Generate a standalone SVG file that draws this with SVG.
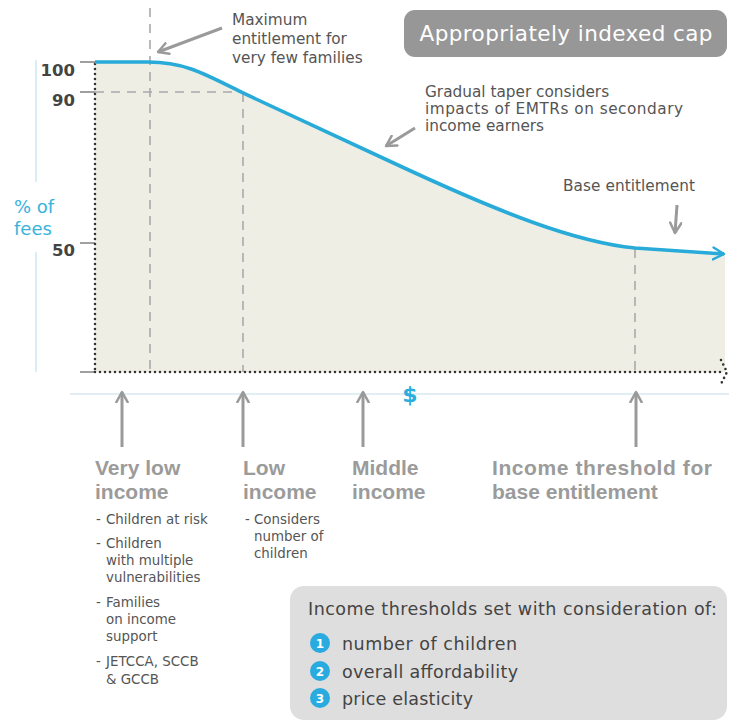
<svg xmlns="http://www.w3.org/2000/svg" width="729" height="724" viewBox="0 0 729 724">
<defs>
<style>
.t{font-family:"DejaVu Sans","Liberation Sans",sans-serif;}
.note{font-size:15.3px;fill:#555555;}
.tick{font-family:"DejaVu Sans","Liberation Sans",sans-serif;font-size:16.5px;font-weight:bold;fill:#444444;text-anchor:end;}
.lbl{font-family:"Liberation Sans","DejaVu Sans",sans-serif;font-size:21px;font-weight:bold;fill:#9b9b9b;}
.sub{font-family:"DejaVu Sans","Liberation Sans",sans-serif;font-size:13.4px;fill:#555555;}
.item{font-family:"DejaVu Sans","Liberation Sans",sans-serif;font-size:17.5px;fill:#444444;}
.num{font-family:"DejaVu Sans","Liberation Sans",sans-serif;font-size:12px;font-weight:bold;fill:#ffffff;text-anchor:middle;}
.dash{stroke:#a9a9a9;stroke-width:1.6;stroke-dasharray:9 7;fill:none;}
.dots{stroke:#333333;stroke-width:2.6;stroke-dasharray:0 5;stroke-linecap:round;fill:none;}
.garrow{stroke:#9a9a9a;stroke-width:3;fill:none;marker-end:url(#chev);}
.tk{stroke:#a0a0a0;stroke-width:2;}
</style>
<marker id="chev" viewBox="0 0 12 12" refX="10" refY="6" markerWidth="4.5" markerHeight="4.5" orient="auto" markerUnits="strokeWidth">
<path d="M1,1 L10,6 L1,11" fill="none" stroke="#9a9a9a" stroke-width="2.2" stroke-linecap="round" stroke-linejoin="round"/>
</marker>
<marker id="chevb" viewBox="0 0 12 12" refX="10" refY="6" markerWidth="4" markerHeight="4" orient="auto" markerUnits="strokeWidth">
<path d="M1,1 L10,6 L1,11" fill="none" stroke="#29abd9" stroke-width="2" stroke-linecap="round" stroke-linejoin="round"/>
</marker>
</defs>
<rect width="729" height="724" fill="#ffffff"/>

<g id="axes">
<line x1="36" y1="60" x2="36" y2="182" stroke="#d8edf4" stroke-width="2"/>
<line x1="36" y1="252" x2="36" y2="372" stroke="#d8edf4" stroke-width="2"/>
<line x1="70" y1="394" x2="729" y2="394" stroke="#e1eef3" stroke-width="2"/>
<path d="M95,62 H148 C185,62 205,74 243,93 L400,166 C500,212.5 575,242 635,248 C680,251 705,253 722,254 L725,254 V372 H95 Z" fill="#efeee5"/>
<line class="dash" x1="150" y1="8" x2="150" y2="372"/>
<line class="dash" x1="243" y1="93" x2="243" y2="372"/>
<line class="dash" x1="95" y1="92" x2="243" y2="92"/>
<line class="dash" x1="635" y1="249" x2="635" y2="372"/>
<line class="tk" x1="80" y1="62" x2="95" y2="62"/>
<line class="tk" x1="80" y1="92" x2="95" y2="92"/>
<line class="tk" x1="80" y1="243" x2="95" y2="243"/>
<line class="tk" x1="80" y1="372" x2="95" y2="372"/>
<line class="dots" x1="95" y1="64" x2="95" y2="372"/>
<line class="dots" x1="95" y1="372" x2="722" y2="372"/>
<path class="dots" d="M721,360 L727,372 L721,384"/>
<text class="tick" x="75" y="76">100</text>
<text class="tick" x="75" y="106">90</text>
<text class="tick" x="75" y="256">50</text>
<text class="t" x="14" y="213" font-size="18" fill="#39b3dc">% of</text>
<text class="t" x="14" y="235" font-size="18" fill="#39b3dc">fees</text>
<text class="t" x="410" y="402" font-size="22" font-weight="bold" fill="#2aaedc" text-anchor="middle">$</text>
</g>

<g id="curve">
<path d="M95,62 H148 C185,62 205,74 243,93 L400,166 C500,212.5 575,242 635,248 C680,251 705,253 724,254" fill="none" stroke="#29abd9" stroke-width="3.6" marker-end="url(#chevb)"/>
</g>

<g id="cap-box">
<rect x="404" y="10" width="323" height="47" rx="11" fill="#979797"/>
<text class="t" x="566" y="41" font-size="21.5" fill="#ffffff" text-anchor="middle" textLength="293">Appropriately indexed cap</text>
</g>

<g id="note-max">
<text class="t note" x="232" y="25">Maximum</text>
<text class="t note" x="232" y="44">entitlement for</text>
<text class="t note" x="232" y="63">very few families</text>
</g>
<g id="note-taper">
<text class="t note" x="425" y="97">Gradual taper considers</text>
<text class="t note" x="425" y="114" textLength="258">impacts of EMTRs on secondary</text>
<text class="t note" x="425" y="131">income earners</text>
</g>
<g id="note-base">
<text class="t note" x="563" y="191" textLength="132">Base entitlement</text>
</g>

<g id="connectors">
<line class="garrow" x1="222" y1="28" x2="158" y2="52"/>
<line class="garrow" x1="415" y1="128" x2="386" y2="146"/>
<line class="garrow" x1="677" y1="205" x2="675" y2="233"/>
<line class="garrow" x1="122" y1="447" x2="122" y2="392"/>
<line class="garrow" x1="243" y1="447" x2="243" y2="392"/>
<line class="garrow" x1="363" y1="447" x2="363" y2="392"/>
<line class="garrow" x1="636" y1="447" x2="636" y2="392"/>
</g>

<g id="very-low">
<text class="lbl" x="95" y="475">Very low</text>
<text class="lbl" x="95" y="499">income</text>
<text class="sub" x="96" y="524">-</text><text class="sub" x="106" y="524">Children at risk</text>
<text class="sub" x="96" y="548">-</text><text class="sub" x="106" y="548">Children</text>
<text class="sub" x="106" y="565">with multiple</text>
<text class="sub" x="106" y="582">vulnerabilities</text>
<text class="sub" x="96" y="607">-</text><text class="sub" x="106" y="607">Families</text>
<text class="sub" x="106" y="624">on income</text>
<text class="sub" x="106" y="641">support</text>
<text class="sub" x="96" y="666">-</text><text class="sub" x="106" y="666">JETCCA, SCCB</text>
<text class="sub" x="106" y="684">&amp; GCCB</text>
</g>
<g id="low">
<text class="lbl" x="243" y="475">Low</text>
<text class="lbl" x="243" y="499">income</text>
<text class="sub" x="245" y="524">-</text><text class="sub" x="254" y="524">Considers</text>
<text class="sub" x="254" y="541">number of</text>
<text class="sub" x="254" y="558">children</text>
</g>
<g id="middle">
<text class="lbl" x="352" y="475">Middle</text>
<text class="lbl" x="352" y="499">income</text>
</g>
<g id="threshold">
<text class="lbl" x="492" y="475" textLength="220">Income threshold for</text>
<text class="lbl" x="492" y="499">base entitlement</text>
</g>

<g id="considerations">
<rect x="290" y="586" width="437" height="134" rx="14" fill="#dedede"/>
<text class="item" x="308" y="615" textLength="409">Income thresholds set with consideration of:</text>
<circle cx="320" cy="643" r="10" fill="#29abe0"/><text class="num" x="320" y="647.5">1</text>
<text class="item" x="342" y="650" textLength="175">number of children</text>
<circle cx="320" cy="671" r="10" fill="#29abe0"/><text class="num" x="320" y="675.5">2</text>
<text class="item" x="342" y="678" textLength="176">overall affordability</text>
<circle cx="320" cy="698" r="10" fill="#29abe0"/><text class="num" x="320" y="702.5">3</text>
<text class="item" x="342" y="705" textLength="131">price elasticity</text>
</g>
</svg>
